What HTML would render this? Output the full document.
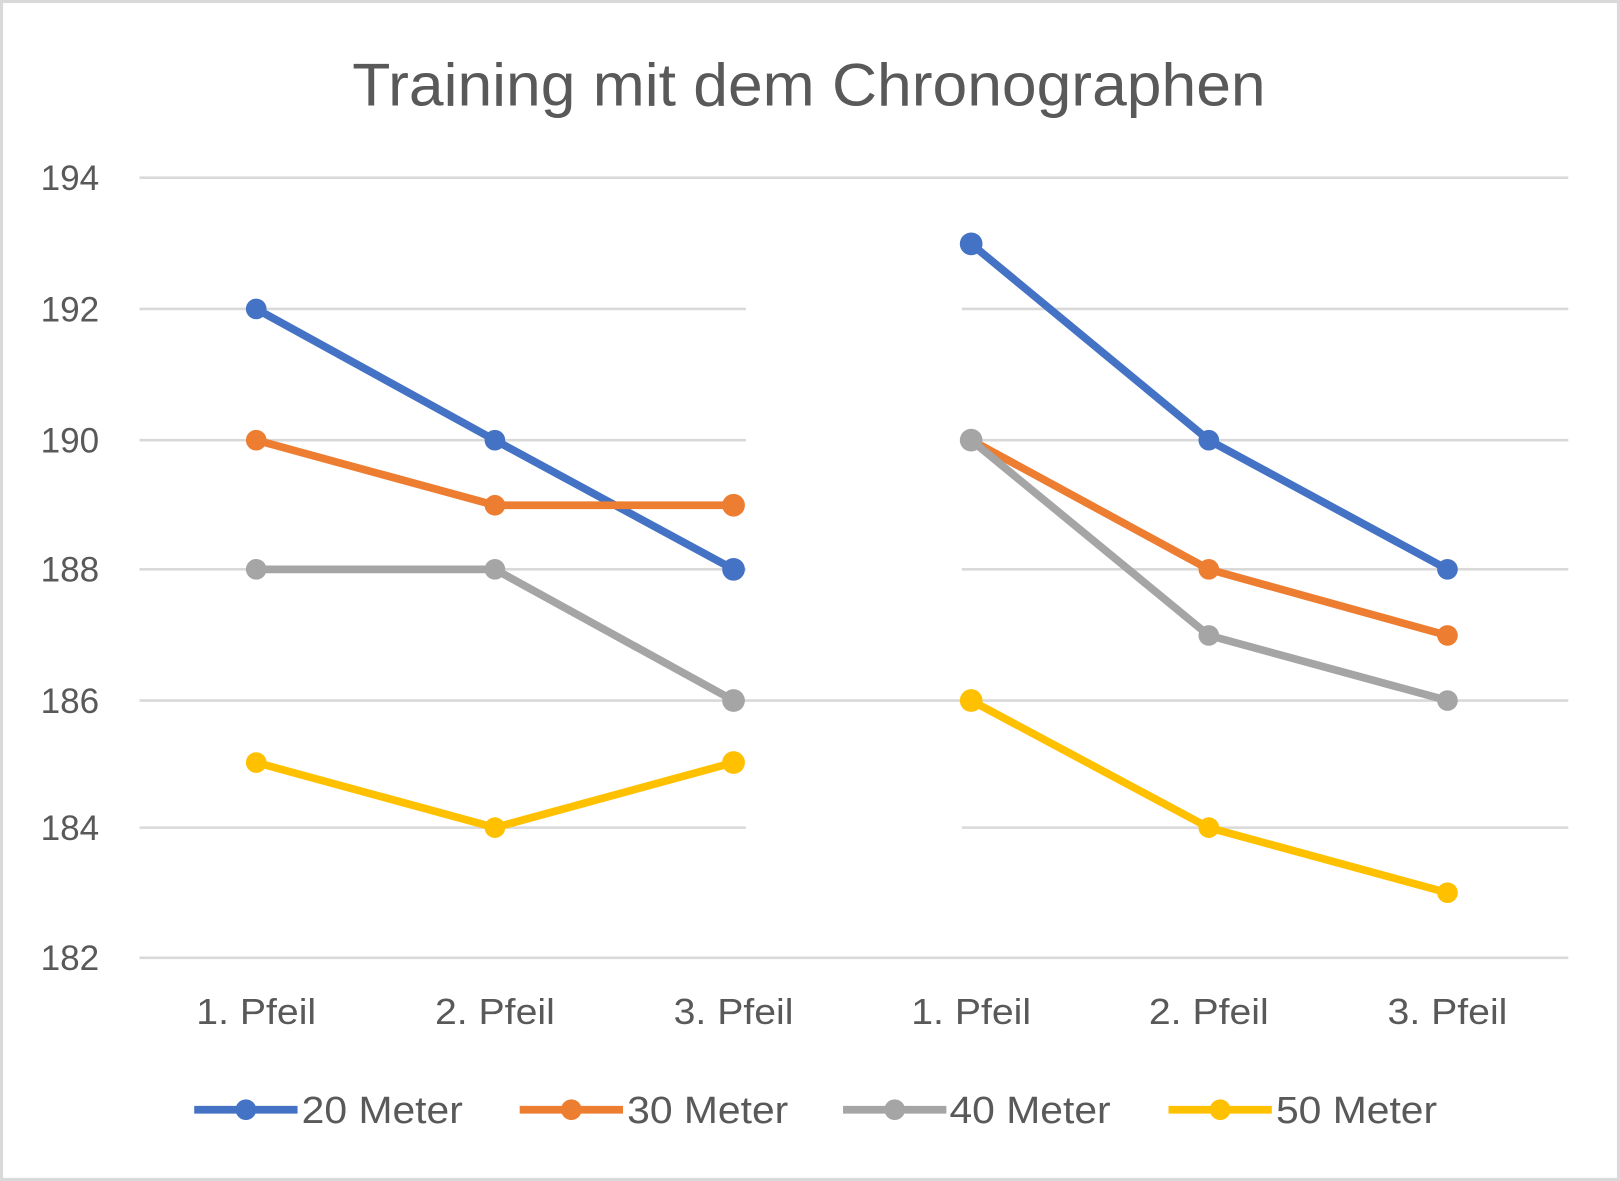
<!DOCTYPE html>
<html><head><style>html,body{margin:0;padding:0;background:#fff}svg{display:block}</style></head><body>
<svg width="1620" height="1181" viewBox="0 0 1568 1143" preserveAspectRatio="none" xmlns="http://www.w3.org/2000/svg" font-family="Liberation Sans, sans-serif">
<rect x="1.5" y="1.5" width="1565" height="1140" fill="#fff" stroke="#d9d9d9" stroke-width="3"/>
<text x="341" y="102" textLength="884" lengthAdjust="spacingAndGlyphs" font-size="58" fill="#595959">Training mit dem Chronographen</text>
<g stroke="#d9d9d9" stroke-width="2.5">
<line x1="135" y1="172" x2="1518" y2="172"/>
<line x1="135" y1="299" x2="722" y2="299"/><line x1="931" y1="299" x2="1518" y2="299"/>
<line x1="135" y1="426" x2="722" y2="426"/><line x1="931" y1="426" x2="1518" y2="426"/>
<line x1="135" y1="551" x2="722" y2="551"/><line x1="931" y1="551" x2="1518" y2="551"/>
<line x1="135" y1="678" x2="1518" y2="678"/>
<line x1="135" y1="801" x2="722" y2="801"/><line x1="931" y1="801" x2="1518" y2="801"/>
<line x1="135" y1="927" x2="1518" y2="927"/>
</g>
<g font-size="34" fill="#595959" text-anchor="end">
<text x="96" y="184">194</text><text x="96" y="311">192</text><text x="96" y="438">190</text><text x="96" y="563">188</text><text x="96" y="690">186</text><text x="96" y="813">184</text><text x="96" y="939">182</text>
</g>
<g font-size="35" fill="#595959">
<text x="190" y="991" textLength="116" lengthAdjust="spacingAndGlyphs">1. Pfeil</text><text x="421" y="991" textLength="116" lengthAdjust="spacingAndGlyphs">2. Pfeil</text><text x="652" y="991" textLength="116" lengthAdjust="spacingAndGlyphs">3. Pfeil</text>
<text x="882" y="991" textLength="116" lengthAdjust="spacingAndGlyphs">1. Pfeil</text><text x="1112" y="991" textLength="116" lengthAdjust="spacingAndGlyphs">2. Pfeil</text><text x="1343" y="991" textLength="116" lengthAdjust="spacingAndGlyphs">3. Pfeil</text>
</g>
<g fill="none" stroke-width="7.5" stroke-linejoin="round">
<polyline stroke="#4472c4" points="248,299 479,426 710,551"/>
<polyline stroke="#4472c4" points="940,236 1170,426 1401,551"/>
<polyline stroke="#ed7d31" points="248,426 479,489 710,489"/>
<polyline stroke="#ed7d31" points="940,426 1170,551 1401,615"/>
<polyline stroke="#a5a5a5" points="248,551 479,551 710,678"/>
<polyline stroke="#a5a5a5" points="940,426 1170,615 1401,678"/>
<polyline stroke="#ffc000" points="248,738 479,801 710,738"/>
<polyline stroke="#ffc000" points="940,678 1170,801 1401,864"/>
</g>
<g fill="#4472c4"><circle cx="248" cy="299" r="10"/><circle cx="479" cy="426" r="10"/><circle cx="710" cy="551" r="11"/><circle cx="940" cy="236" r="11"/><circle cx="1170" cy="426" r="10"/><circle cx="1401" cy="551" r="10"/></g>
<g fill="#ed7d31"><circle cx="248" cy="426" r="10"/><circle cx="479" cy="489" r="10"/><circle cx="710" cy="489" r="11"/><circle cx="940" cy="426" r="10"/><circle cx="1170" cy="551" r="10"/><circle cx="1401" cy="615" r="10"/></g>
<g fill="#a5a5a5"><circle cx="248" cy="551" r="10"/><circle cx="479" cy="551" r="10"/><circle cx="710" cy="678" r="11"/><circle cx="940" cy="426" r="11"/><circle cx="1170" cy="615" r="10"/><circle cx="1401" cy="678" r="10"/></g>
<g fill="#ffc000"><circle cx="248" cy="738" r="10"/><circle cx="479" cy="801" r="10"/><circle cx="710" cy="738" r="11"/><circle cx="940" cy="678" r="11"/><circle cx="1170" cy="801" r="10"/><circle cx="1401" cy="864" r="10"/></g>
<g stroke-width="7.5">
<line x1="188" y1="1074" x2="288" y2="1074" stroke="#4472c4"/><circle cx="238" cy="1074" r="10" fill="#4472c4"/>
<line x1="503" y1="1074" x2="603" y2="1074" stroke="#ed7d31"/><circle cx="553" cy="1074" r="10" fill="#ed7d31"/>
<line x1="816" y1="1074" x2="916" y2="1074" stroke="#a5a5a5"/><circle cx="866" cy="1074" r="10" fill="#a5a5a5"/>
<line x1="1131" y1="1074" x2="1231" y2="1074" stroke="#ffc000"/><circle cx="1181" cy="1074" r="10" fill="#ffc000"/>
</g>
<g font-size="37" fill="#595959">
<text x="292" y="1087" textLength="156" lengthAdjust="spacingAndGlyphs">20 Meter</text><text x="607" y="1087" textLength="156" lengthAdjust="spacingAndGlyphs">30 Meter</text><text x="919" y="1087" textLength="156" lengthAdjust="spacingAndGlyphs">40 Meter</text><text x="1235" y="1087" textLength="156" lengthAdjust="spacingAndGlyphs">50 Meter</text>
</g>
</svg>
</body></html>
